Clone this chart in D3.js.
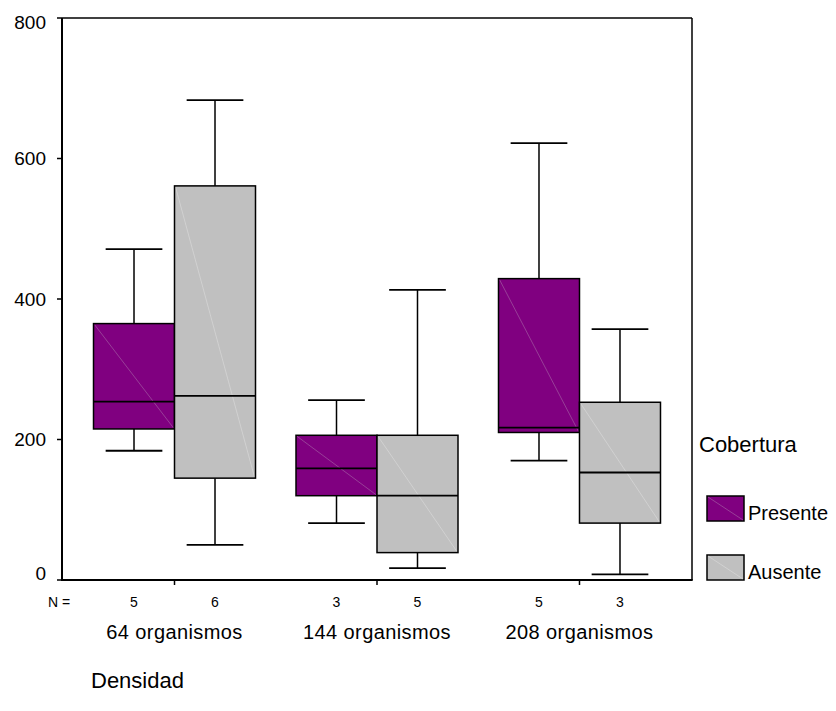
<!DOCTYPE html>
<html>
<head>
<meta charset="utf-8">
<script src="https://cdn.jsdelivr.net/npm/d3@7"></script>
<style>
  body { margin: 0; background: #fff; }
  text { font-family: Arial, "Liberation Sans", sans-serif; fill: #000; }
</style>
</head>
<body>
<div id="chart"></div>
<script>
var groups = ['64 organismos', '144 organismos', '208 organismos'];
var series = ['Presente', 'Ausente'];
var counts = [[5, 6], [3, 5], [5, 3]];
var whisker_low = [[184, 50], [81, 17], [170, 8]];
var q1 = [[215, 145], [120, 39], [210, 81]];
var medians = [[254, 262], [159, 120], [217, 153]];
var q3 = [[365, 561], [206, 206], [429, 253]];
var whisker_high = [[471, 683], [256, 413], [622, 357]];
var y_ticks = [0, 200, 400, 600, 800];

var fills = { 'Presente': '#800080', 'Ausente': '#c0c0c0' };
var diag_colors = { 'Presente': '#a868a8', 'Ausente': '#dcdcdc' };

var width = 836, height = 711;
var plot = { left: 62, right: 692, top: 18, bottom: 580 };

var svg = d3.select('#chart')
  .append('svg')
  .attr('width', width)
  .attr('height', height);

var y = d3.scaleLinear()
  .domain([0, 800])
  .range([plot.bottom, plot.top]);

var x = d3.scaleBand()
  .domain(groups)
  .range([plot.left, plot.right])
  .paddingInner(0)
  .paddingOuter(0.0556);

var x_inner = d3.scaleBand()
  .domain(series)
  .range([0, x.bandwidth()])
  .paddingInner(0)
  .paddingOuter(0.25);

// build rows for each box
var boxes = [];
groups.forEach(function(g, gi) {
  series.forEach(function(s, si) {
    boxes.push({
      group: g, series: s,
      n: counts[gi][si],
      lo: whisker_low[gi][si],
      q1: q1[gi][si],
      med: medians[gi][si],
      q3: q3[gi][si],
      hi: whisker_high[gi][si]
    });
  });
});

var bw = x_inner.bandwidth();
var cap_w = bw * 0.7;

var box_g = svg.append('g').attr('class', 'boxes');

boxes.forEach(function(d) {
  var x0 = x(d.group) + x_inner(d.series);
  var cx = x0 + bw / 2;
  var g = box_g.append('g');

  // whiskers
  g.append('line')
    .attr('x1', cx).attr('x2', cx)
    .attr('y1', y(d.hi)).attr('y2', y(d.q3))
    .attr('stroke', '#000').attr('stroke-width', 1.5);
  g.append('line')
    .attr('x1', cx).attr('x2', cx)
    .attr('y1', y(d.q1)).attr('y2', y(d.lo))
    .attr('stroke', '#000').attr('stroke-width', 1.5);
  g.append('line')
    .attr('x1', cx - cap_w / 2).attr('x2', cx + cap_w / 2)
    .attr('y1', y(d.hi)).attr('y2', y(d.hi))
    .attr('stroke', '#000').attr('stroke-width', 1.8);
  g.append('line')
    .attr('x1', cx - cap_w / 2).attr('x2', cx + cap_w / 2)
    .attr('y1', y(d.lo)).attr('y2', y(d.lo))
    .attr('stroke', '#000').attr('stroke-width', 1.8);

  g.append('rect')
    .attr('x', x0)
    .attr('y', y(d.q3))
    .attr('width', bw)
    .attr('height', y(d.q1) - y(d.q3))
    .attr('fill', fills[d.series]);

  // faint diagonal, top-left to bottom-right
  g.append('line')
    .attr('x1', x0 + 1).attr('y1', y(d.q3) + 1)
    .attr('x2', x0 + bw - 1).attr('y2', y(d.q1) - 1)
    .attr('stroke', diag_colors[d.series])
    .attr('stroke-width', 0.6);

  g.append('rect')
    .attr('x', x0)
    .attr('y', y(d.q3))
    .attr('width', bw)
    .attr('height', y(d.q1) - y(d.q3))
    .attr('fill', 'none')
    .attr('stroke', '#000')
    .attr('stroke-width', 1.5);

  g.append('line')
    .attr('x1', x0).attr('x2', x0 + bw)
    .attr('y1', y(d.med)).attr('y2', y(d.med))
    .attr('stroke', '#000').attr('stroke-width', 1.8);
});

// frame
var frame = svg.append('g').attr('class', 'frame');
frame.append('line')
  .attr('x1', plot.left).attr('x2', plot.right)
  .attr('y1', plot.top).attr('y2', plot.top)
  .attr('stroke', '#000').attr('stroke-width', 1.3);
frame.append('line')
  .attr('x1', plot.right).attr('x2', plot.right)
  .attr('y1', plot.top).attr('y2', plot.bottom)
  .attr('stroke', '#000').attr('stroke-width', 1.5);
frame.append('line')
  .attr('x1', plot.left).attr('x2', plot.left)
  .attr('y1', plot.top).attr('y2', plot.bottom + 1)
  .attr('stroke', '#000').attr('stroke-width', 2);
frame.append('line')
  .attr('x1', plot.left - 1).attr('x2', plot.right + 0.7)
  .attr('y1', plot.bottom).attr('y2', plot.bottom)
  .attr('stroke', '#000').attr('stroke-width', 2);

// y axis ticks and labels
var y_axis = svg.append('g').attr('class', 'y_axis');
y_ticks.forEach(function(t) {
  y_axis.append('line')
    .attr('x1', plot.left - 5).attr('x2', plot.left)
    .attr('y1', y(t)).attr('y2', y(t))
    .attr('stroke', '#000').attr('stroke-width', 1.5);
  // end labels are nudged to stay inside the axis span
  var ty = y(t);
  if (t === 800) { ty += 4; }
  if (t === 0) { ty -= 7; }
  y_axis.append('text')
    .attr('x', plot.left - 16)
    .attr('y', ty)
    .attr('dy', '0.35em')
    .attr('text-anchor', 'end')
    .style('font-size', '19px')
    .text(t);
});

// x ticks at group centres
var x_axis = svg.append('g').attr('class', 'x_axis');
groups.forEach(function(g) {
  var cx = x(g) + x.bandwidth() / 2;
  x_axis.append('line')
    .attr('x1', cx).attr('x2', cx)
    .attr('y1', plot.bottom).attr('y2', plot.bottom + 5)
    .attr('stroke', '#000').attr('stroke-width', 1.5);
  x_axis.append('text')
    .attr('x', cx)
    .attr('y', 639)
    .attr('text-anchor', 'middle')
    .style('font-size', '20px')
    .style('letter-spacing', '0.4px')
    .text(g);
});

// N = counts
x_axis.append('text')
  .attr('x', 48)
  .attr('y', 602)
  .attr('dy', '0.35em')
  .style('font-size', '14px')
  .text('N =');
boxes.forEach(function(d) {
  x_axis.append('text')
    .attr('x', x(d.group) + x_inner(d.series) + bw / 2)
    .attr('y', 602)
    .attr('dy', '0.35em')
    .attr('text-anchor', 'middle')
    .style('font-size', '14px')
    .text(d.n);
});

// axis title
svg.append('text')
  .attr('x', 91)
  .attr('y', 688)
  .style('font-size', '22px')
  .text('Densidad');

// legend
var legend = svg.append('g').attr('class', 'legend');
legend.append('text')
  .attr('x', 699)
  .attr('y', 452)
  .style('font-size', '22px')
  .text('Cobertura');

var legend_top = [496, 555];
series.forEach(function(s, i) {
  legend.append('rect')
    .attr('x', 707)
    .attr('y', legend_top[i])
    .attr('width', 37)
    .attr('height', 25)
    .attr('fill', fills[s])
    .attr('stroke', '#000')
    .attr('stroke-width', 1.5);
  legend.append('line')
    .attr('x1', 708).attr('y1', legend_top[i] + 1)
    .attr('x2', 743).attr('y2', legend_top[i] + 24)
    .attr('stroke', diag_colors[s])
    .attr('stroke-width', 0.6);
  legend.append('text')
    .attr('x', 748)
    .attr('y', legend_top[i] + 24)
    .style('font-size', '20px')
    .text(s);
});
</script>
</body>
</html>
